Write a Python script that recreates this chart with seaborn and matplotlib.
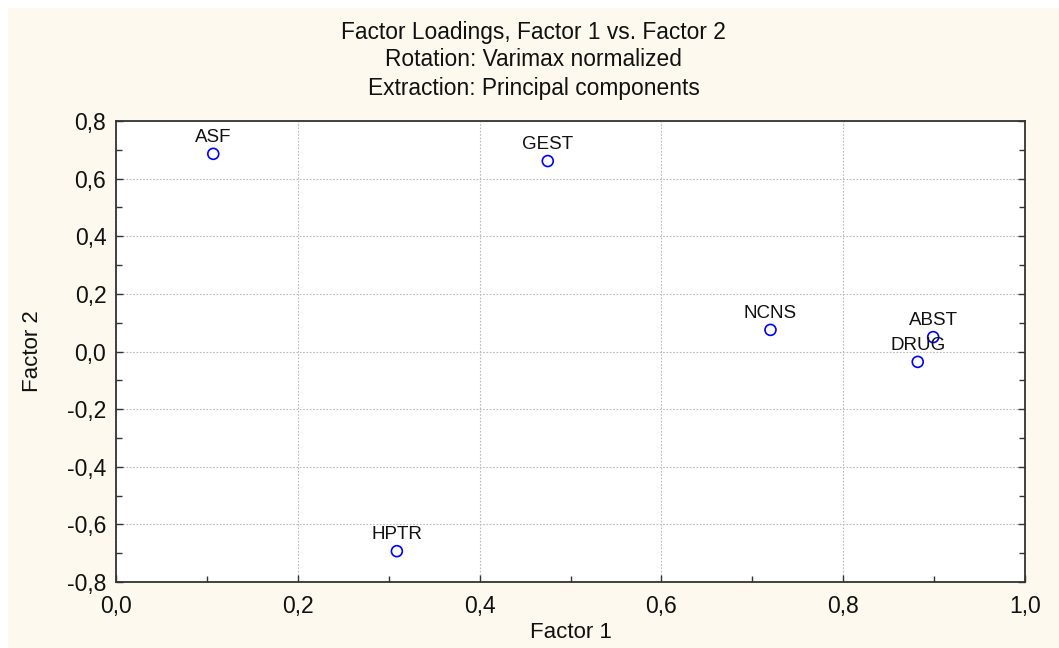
import matplotlib
matplotlib.use("Agg")
import matplotlib.pyplot as plt
from matplotlib.patches import Rectangle
from matplotlib.ticker import FuncFormatter, MultipleLocator
import seaborn as sns
import pandas as pd

# Factor loadings (varimax normalized, principal components)
variables = ["ASF", "GEST", "NCNS", "ABST", "DRUG", "HPTR"]
factor1 = [0.107, 0.475, 0.720, 0.899, 0.882, 0.309]
factor2 = [0.686, 0.661, 0.075, 0.050, -0.036, -0.693]

df = pd.DataFrame({"Variable": variables, "Factor 1": factor1, "Factor 2": factor2})

sns.set_style("white")
plt.rcParams["font.family"] = ["Liberation Sans", "DejaVu Sans"]

fig = plt.figure(figsize=(10.59, 6.48), dpi=100)
fig.patch.set_facecolor("white")
# cream panel behind the chart
fig.patches.append(Rectangle((8 / 1059, 0), 1, 1 - 8 / 648, transform=fig.transFigure,
                             facecolor="#FEF9EE", edgecolor="none", zorder=-10))

ax = fig.add_axes([116 / 1059, 1 - 582 / 648, (1025 - 116) / 1059, (582 - 121) / 648])
ax.set_facecolor("white")

sns.scatterplot(data=df, x="Factor 1", y="Factor 2", ax=ax, marker="o",
                s=62, facecolor="none", edgecolor="#0000FF", linewidth=1.2, zorder=3)

for name, x, y in zip(variables, factor1, factor2):
    ax.annotate(name, (x, y), xytext=(0, 6), textcoords="offset points",
                ha="center", va="bottom", fontsize=13.5, color="#111111", zorder=4)

ax.set_xlim(0.0, 1.0)
ax.set_ylim(-0.8, 0.8)
ax.xaxis.set_major_locator(MultipleLocator(0.2))
ax.xaxis.set_minor_locator(MultipleLocator(0.1))
ax.yaxis.set_major_locator(MultipleLocator(0.2))
ax.yaxis.set_minor_locator(MultipleLocator(0.1))
comma = FuncFormatter(lambda v, p: f"{v:.1f}".replace(".", ",").replace("-0,0", "0,0"))
ax.xaxis.set_major_formatter(comma)
ax.yaxis.set_major_formatter(comma)

ax.grid(True, which="major", linestyle=(0, (1.5, 1.5)), color="#BBBBBB", linewidth=0.8)
ax.tick_params(which="both", direction="in", color="#333333", top=False, right=True,
               left=True, bottom=True)
ax.tick_params(which="major", length=5, width=1, labelsize=16.5, labelcolor="#111111")
ax.tick_params(which="minor", length=4, width=1)
ax.tick_params(axis="y", which="major", pad=7)
ax.tick_params(axis="x", which="major", pad=9)
for s in ax.spines.values():
    s.set_visible(True)
    s.set_color("#333333")
    s.set_linewidth(1.3)

ax.set_xlabel("Factor 1", fontsize=16, color="#111111", va="center")
ax.set_ylabel("Factor 2", fontsize=16, color="#111111", va="center")
ax.xaxis.set_label_coords(0.5, (582 - 633) / 461)
ax.yaxis.set_label_coords((33 - 116) / 909, 0.5)

title_lines = ["Factor Loadings, Factor 1 vs. Factor 2",
               "Rotation: Varimax normalized",
               "Extraction: Principal components"]
for line, ypix in zip(title_lines, [32, 60, 88]):
    fig.text(0.5 + 8 / 1059 / 2, 1 - ypix / 648, line, ha="center", va="center",
             fontsize=16.4, color="#111111")

fig.savefig("out.png", dpi=100, facecolor=fig.get_facecolor())
